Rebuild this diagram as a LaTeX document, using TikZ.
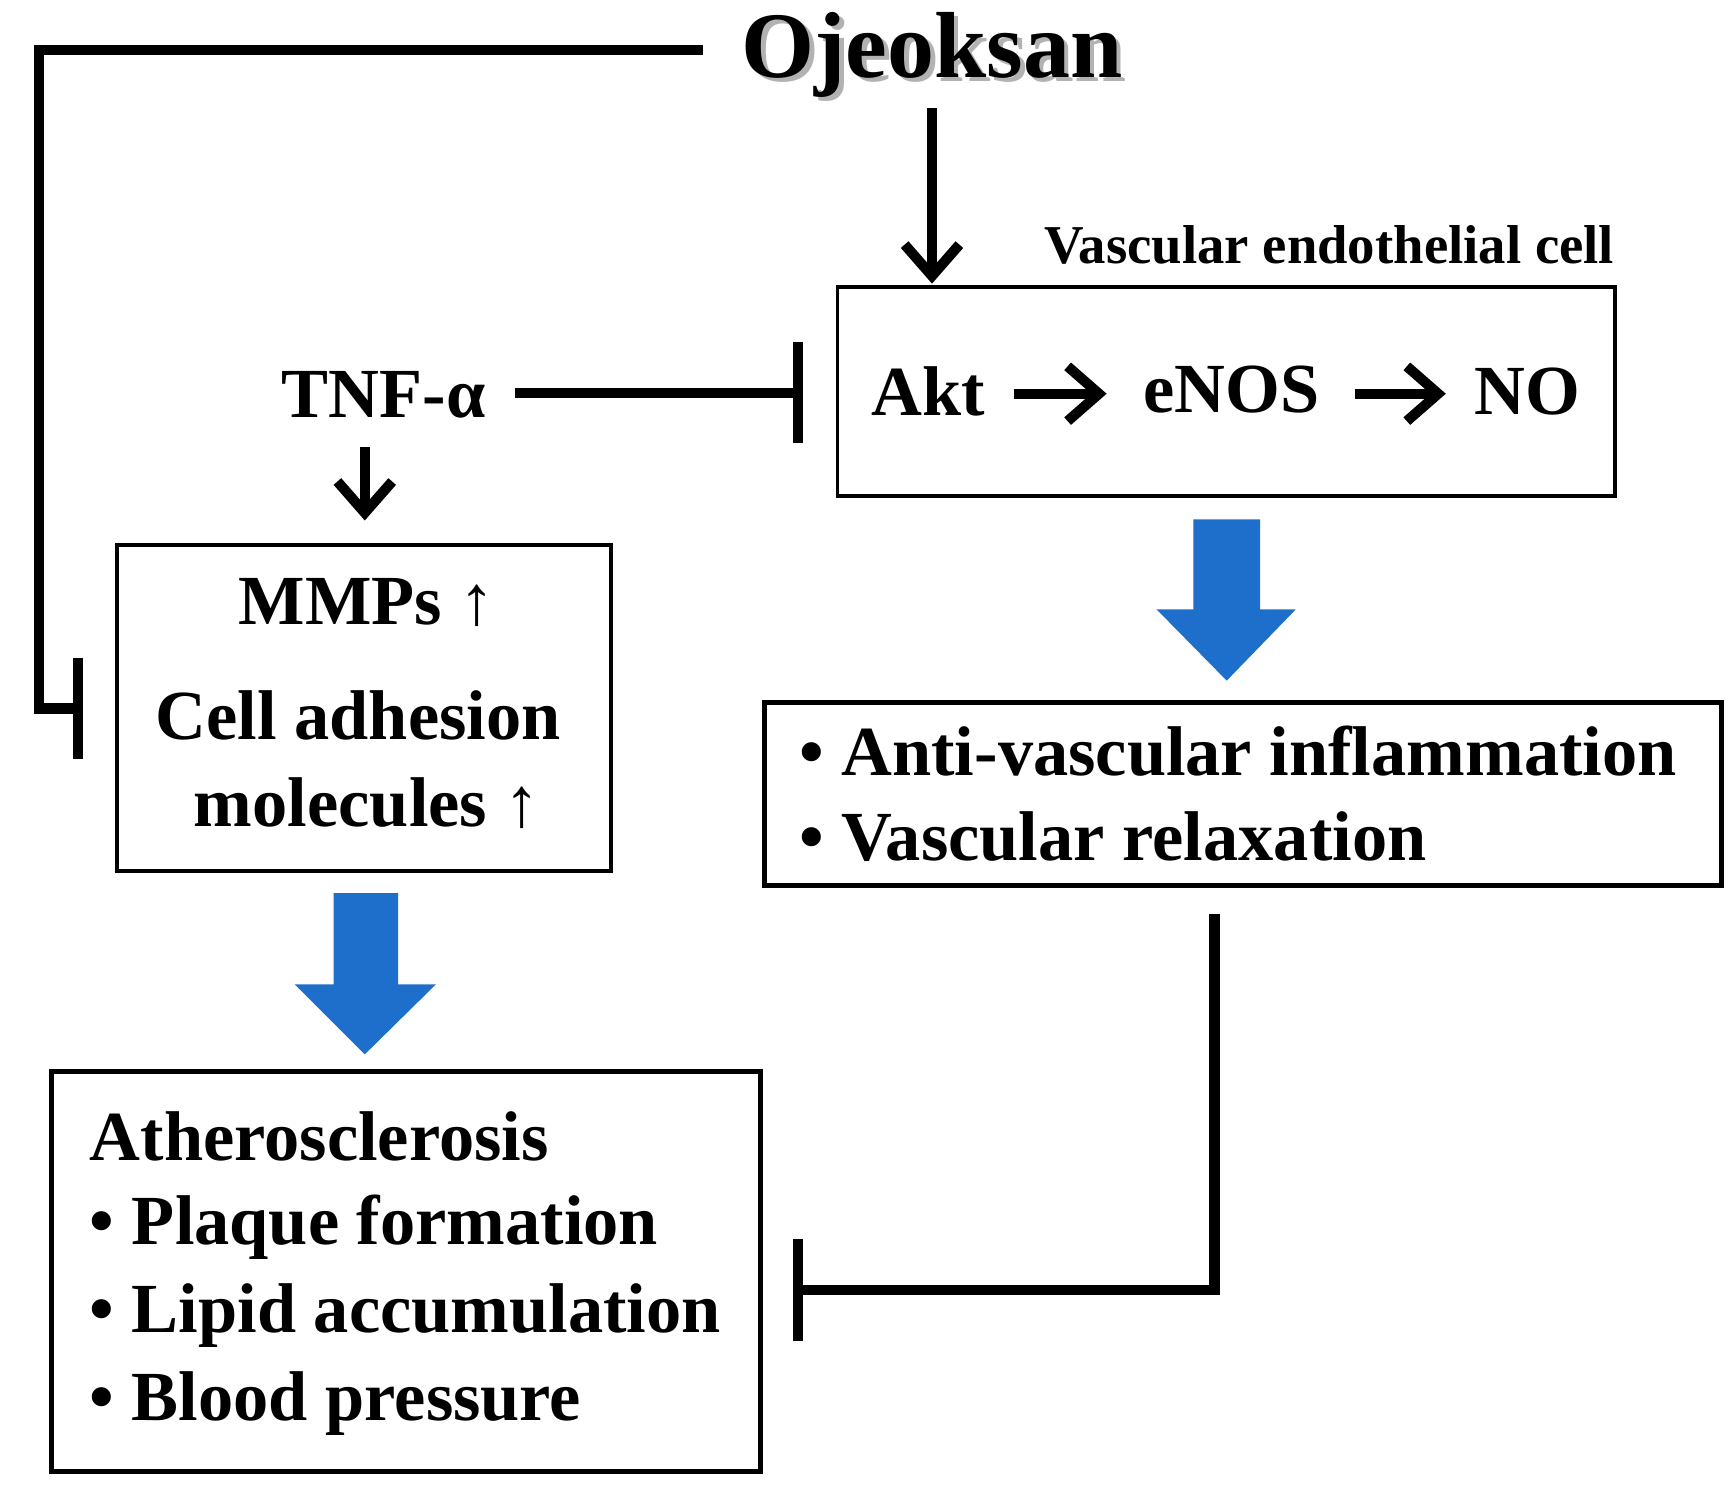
\documentclass[tikz,border=0pt]{standalone}
\usepackage{fontspec}
\setmainfont{Liberation Serif}
\usetikzlibrary{arrows.meta}
\begin{document}
\begin{tikzpicture}[x=0.01cm,y=-0.01cm,
  lbl/.style={font=\bfseries\fontsize{18}{22}\selectfont, inner sep=0pt},
  act/.style={line width=2.6pt, -{Straight Barb[length=8pt,width=14pt,line width=2.6pt]}},
  inh/.style={line width=2.6pt, -{Bar[width=26pt,line width=2.6pt]}},
  blue/.style={fill={rgb,255:red,30;green,111;blue,204}, draw=none}]
\useasboundingbox (0,0) rectangle (1560,1345);
% Title
\node[lbl, font=\bfseries\fontsize{24}{28}\selectfont, text=gray!60] at (842,53) {Ojeoksan};
\node[lbl, font=\bfseries\fontsize{24}{28}\selectfont] (oj) at (838,49) {Ojeoksan};
% Endothelial box
\draw[line width=1pt] (753,258) rectangle (1452,446);
\node[lbl, font=\bfseries\fontsize{14}{16}\selectfont, anchor=east] (vec) at (1452,220) {Vascular endothelial cell};
\node[lbl] (akt) at (835,352) {Akt};
\node[lbl] (enos) at (1107,350) {eNOS};
\node[lbl] (no) at (1373,352) {NO};
\coordinate (a1s) at (912,354); \coordinate (a1e) at (995,354);
\coordinate (a2s) at (1218,354); \coordinate (a2e) at (1300,354);
\draw[act] (a1s) -- (a1e);
\draw[act] (a2s) -- (a2e);
% Ojeoksan -> box
\coordinate (ojd) at (838,97); \coordinate (ojt) at (838,255);
\draw[act] (ojd) -- (ojt);
% TNF
\node[lbl] (tnf) at (345,355) {TNF-α};
\coordinate (tnfr) at (463,353); \coordinate (tnfe) at (722,353);
\draw[inh] (tnfr) -- (tnfe);
\coordinate (tnfd) at (328,402); \coordinate (tnfde) at (328,468);
\draw[act] (tnfd) -- (tnfde);
% MMP box
\draw[line width=1pt] (105,490) rectangle (549,783);
\node[lbl] (mmp) at (330,542) {MMPs ↑};
\node[lbl] (cam) at (322,643) {Cell adhesion};
\node[lbl] (mol) at (330,722) {molecules ↑};
% Ojeoksan inhibits MMP box
\coordinate (o1) at (632,45); \coordinate (o2) at (35,45); \coordinate (o3) at (35,637); \coordinate (o4) at (75,637);
\draw[inh] (o1) -- (o2) -- (o3) -- (o4);
% Blue arrows
\fill[blue] (300,803) -- (358,803) -- (358,885) -- (392,885) -- (328,948) -- (265,885) -- (300,885) -- cycle;
\fill[blue] (1073,467) -- (1133,467) -- (1133,548) -- (1165,548) -- (1103,612) -- (1040,548) -- (1073,548) -- cycle;
% Athero box
\draw[line width=1.3pt] (46,963) rectangle (684,1323);
\node[lbl, anchor=west] (ath) at (80,1022) {Atherosclerosis};
\node[lbl, anchor=west] (pl) at (80,1103) {• Plaque formation};
\node[lbl, anchor=west] (li) at (80,1183) {• Lipid accumulation};
\node[lbl, anchor=west] (bp) at (80,1262) {• Blood pressure};
% Effects box
\draw[line width=1.3pt] (687,632) rectangle (1548,796);
\node[lbl, anchor=west] (avi) at (718,675) {• Anti-vascular inflammation};
\node[lbl, anchor=west] (vr) at (718,752) {• Vascular relaxation};
% Effects inhibit athero
\coordinate (e1) at (1092,822); \coordinate (e2) at (1092,1160); \coordinate (e3) at (713,1160);
\draw[inh] (e1) -- (e2) -- (e3);
\end{tikzpicture}
\end{document}
